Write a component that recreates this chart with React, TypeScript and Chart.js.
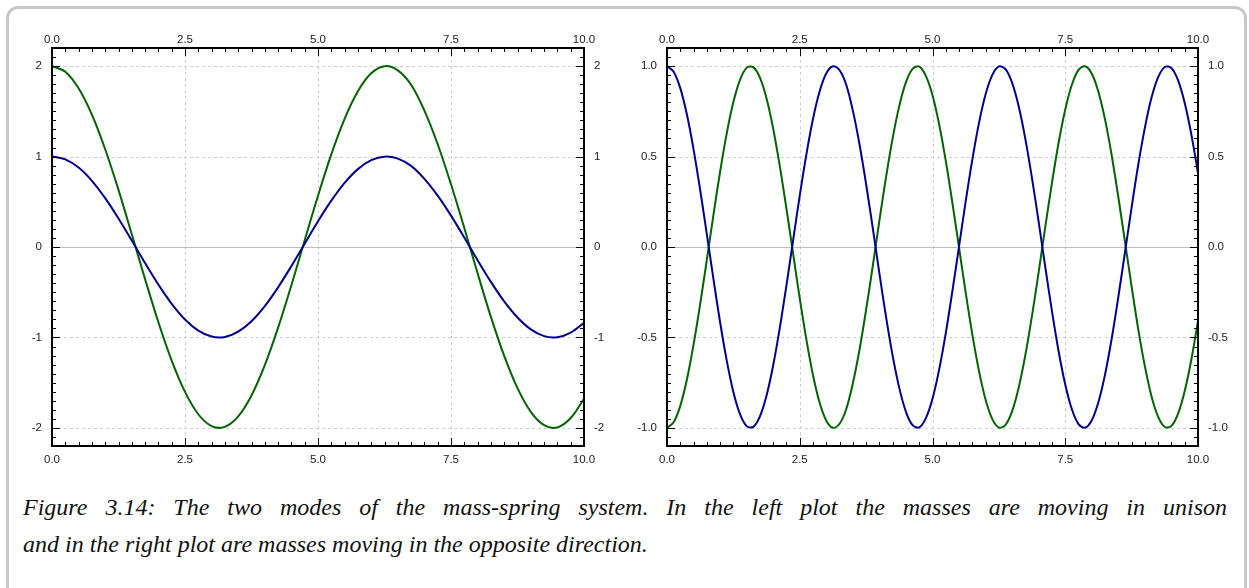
import React, { useEffect, useRef } from "react";
import { Chart, registerables } from "chart.js";

Chart.register(...registerables);

// ---------- data ----------
const leftX = [
  0, 0.25, 0.5, 0.75, 1, 1.25, 1.5, 1.75, 2, 2.25, 2.5, 2.75, 3, 3.25, 3.5, 3.75, 4, 4.25, 4.5, 4.75,
  5, 5.25, 5.5, 5.75, 6, 6.25, 6.5, 6.75, 7, 7.25, 7.5, 7.75, 8, 8.25, 8.5, 8.75, 9, 9.25, 9.5, 9.75, 10,
];
const leftBlue = [
  1.0, 0.969, 0.878, 0.732, 0.54, 0.315, 0.071, -0.178, -0.416, -0.628, -0.801, -0.924, -0.99, -0.994,
  -0.936, -0.821, -0.654, -0.446, -0.211, 0.037, 0.284, 0.512, 0.709, 0.861, 0.96, 0.999, 0.977, 0.897,
  0.754, 0.568, 0.347, 0.105, -0.146, -0.386, -0.602, -0.78, -0.911, -0.985, -0.997, -0.946, -0.839,
];
const leftGreen = [
  2.0, 1.938, 1.755, 1.463, 1.081, 0.631, 0.141, -0.356, -0.832, -1.256, -1.602, -1.849, -1.98, -1.988,
  -1.873, -1.641, -1.307, -0.892, -0.422, 0.075, 0.567, 1.024, 1.417, 1.722, 1.92, 1.999, 1.953, 1.794,
  1.508, 1.136, 0.693, 0.21, -0.291, -0.772, -1.204, -1.56, -1.822, -1.969, -1.994, -1.891, -1.678,
];
const rightX = [
  0, 0.125, 0.25, 0.375, 0.5, 0.625, 0.75, 0.875, 1, 1.125, 1.25, 1.375, 1.5, 1.625, 1.75, 1.875,
  2, 2.125, 2.25, 2.375, 2.5, 2.625, 2.75, 2.875, 3, 3.125, 3.25, 3.375, 3.5, 3.625, 3.75, 3.875,
  4, 4.125, 4.25, 4.375, 4.5, 4.625, 4.75, 4.875, 5, 5.125, 5.25, 5.375, 5.5, 5.625, 5.75, 5.875,
  6, 6.125, 6.25, 6.375, 6.5, 6.625, 6.75, 6.875, 7, 7.125, 7.25, 7.375, 7.5, 7.625, 7.75, 7.875,
  8, 8.125, 8.25, 8.375, 8.5, 8.625, 8.75, 8.875, 9, 9.125, 9.25, 9.375, 9.5, 9.625, 9.75, 9.875, 10,
];
const rightBlue = [
  1.0, 0.969, 0.878, 0.732, 0.54, 0.315, 0.071, -0.178, -0.416, -0.628, -0.801, -0.924, -0.99, -0.994,
  -0.936, -0.821, -0.654, -0.446, -0.211, 0.037, 0.284, 0.512, 0.709, 0.861, 0.96, 0.999, 0.977, 0.897,
  0.754, 0.568, 0.347, 0.105, -0.146, -0.386, -0.602, -0.78, -0.911, -0.985, -0.997, -0.946, -0.839,
  -0.678, -0.476, -0.243, 0.004, 0.252, 0.483, 0.685, 0.844, 0.95, 0.998, 0.983, 0.907, 0.775, 0.595,
  0.378, 0.137, -0.113, -0.355, -0.576, -0.76, -0.897, -0.979, -0.999, -0.958, -0.857, -0.704, -0.506,
  -0.275, -0.029, 0.219, 0.455, 0.66, 0.826, 0.939, 0.995, 0.989, 0.921, 0.796, 0.622, 0.408,
];
const rightGreen = [
  -1.0, -0.969, -0.878, -0.732, -0.54, -0.315, -0.071, 0.178, 0.416, 0.628, 0.801, 0.924, 0.99, 0.994,
  0.936, 0.821, 0.654, 0.446, 0.211, -0.037, -0.284, -0.512, -0.709, -0.861, -0.96, -0.999, -0.977, -0.897,
  -0.754, -0.568, -0.347, -0.105, 0.146, 0.386, 0.602, 0.78, 0.911, 0.985, 0.997, 0.946, 0.839,
  0.678, 0.476, 0.243, -0.004, -0.252, -0.483, -0.685, -0.844, -0.95, -0.998, -0.983, -0.907, -0.775, -0.595,
  -0.378, -0.137, 0.113, 0.355, 0.576, 0.76, 0.897, 0.979, 0.999, 0.958, 0.857, 0.704, 0.506,
  0.275, 0.029, -0.219, -0.455, -0.66, -0.826, -0.939, -0.995, -0.989, -0.921, -0.796, -0.622, -0.408,
];

const xTickValues = [0, 2.5, 5, 7.5, 10];
const xTickLabels = ["0.0", "2.5", "5.0", "7.5", "10.0"];
const leftYTickValues = [-2, -1, 0, 1, 2];
const leftYTickLabels = ["-2", "-1", "0", "1", "2"];
const rightYTickValues = [-1, -0.5, 0, 0.5, 1];
const rightYTickLabels = ["-1.0", "-0.5", "0.0", "0.5", "1.0"];

const captionLine1 =
  "Figure 3.14: The two modes of the mass-spring system. In the left plot the masses are moving in unison";
const captionLine2 = "and in the right plot are masses moving in the opposite direction.";

// ---------- styles ----------
const BLUE = "#00008f";
const GREEN = "#006400";
const TICK_FONT = { family: "'Liberation Sans', Arial, sans-serif", size: 11.5 };
const TICK_COLOR = "#222";

const isMultiple = (v: number, step: number) =>
  Math.abs(v / step - Math.round(v / step)) < 1e-6;

const framePlugin = {
  id: "frame",
  beforeDatasetsDraw(chart: any, _args: any, opts: any) {
    const { ctx, chartArea: a, scales } = chart;
    const xs = scales.x;
    const ys = scales.y;
    ctx.save();
    ctx.lineWidth = 1;
    ctx.strokeStyle = "#cfcfcf";
    ctx.setLineDash([3, 3]);
    for (const v of opts.xMajor) {
      if (v <= xs.min || v >= xs.max) continue;
      const px = Math.round(xs.getPixelForValue(v)) + 0.5;
      ctx.beginPath();
      ctx.moveTo(px, a.top);
      ctx.lineTo(px, a.bottom);
      ctx.stroke();
    }
    for (const v of opts.yMajor) {
      if (v === 0 || v <= ys.min || v >= ys.max) continue;
      const py = Math.round(ys.getPixelForValue(v)) + 0.5;
      ctx.beginPath();
      ctx.moveTo(a.left, py);
      ctx.lineTo(a.right, py);
      ctx.stroke();
    }
    ctx.setLineDash([]);
    ctx.strokeStyle = "#bdbdbd";
    const pz = Math.round(ys.getPixelForValue(0)) + 0.5;
    ctx.beginPath();
    ctx.moveTo(a.left, pz);
    ctx.lineTo(a.right, pz);
    ctx.stroke();
    ctx.restore();
  },
  afterDatasetsDraw(chart: any, _args: any, opts: any) {
    const { ctx, chartArea: a, scales } = chart;
    const xs = scales.x;
    const ys = scales.y;
    ctx.save();
    ctx.strokeStyle = "#000";
    ctx.lineWidth = 1;
    const xi0 = Math.ceil(xs.min / opts.xMinor - 1e-6);
    const xi1 = Math.floor(xs.max / opts.xMinor + 1e-6);
    for (let i = xi0; i <= xi1; i++) {
      const v = i * opts.xMinor;
      const len = isMultiple(v, opts.xMajorStep) ? 8 : 4;
      const px = Math.round(xs.getPixelForValue(v)) + 0.5;
      ctx.beginPath();
      ctx.moveTo(px, a.bottom);
      ctx.lineTo(px, a.bottom - len);
      ctx.moveTo(px, a.top);
      ctx.lineTo(px, a.top + len);
      ctx.stroke();
    }
    const yi0 = Math.ceil(ys.min / opts.yMinor - 1e-6);
    const yi1 = Math.floor(ys.max / opts.yMinor + 1e-6);
    for (let i = yi0; i <= yi1; i++) {
      const v = i * opts.yMinor;
      const len = isMultiple(v, opts.yMajorStep) ? 8 : 4;
      const py = Math.round(ys.getPixelForValue(v)) + 0.5;
      ctx.beginPath();
      ctx.moveTo(a.left, py);
      ctx.lineTo(a.left + len, py);
      ctx.moveTo(a.right, py);
      ctx.lineTo(a.right - len, py);
      ctx.stroke();
    }
    ctx.lineWidth = 2;
    ctx.strokeRect(a.left, a.top, a.right - a.left, a.bottom - a.top);
    ctx.restore();
  },
};

type PanelProps = {
  xVals: number[];
  series: { values: number[]; color: string }[];
  yMin: number;
  yMax: number;
  yTickValues: number[];
  yTickLabels: string[];
  yMinor: number;
  yMajorStep: number;
  leftW: number;
  rightW: number;
  width: number;
  height: number;
  left: number;
};

function xScale(position: "top" | "bottom", h: number, pad: number) {
  return {
    type: "linear",
    position,
    min: 0,
    max: 10,
    afterBuildTicks: (s: any) => {
      s.ticks = xTickValues.map((v) => ({ value: v }));
    },
    afterFit: (s: any) => {
      s.height = h;
    },
    ticks: {
      callback: (v: number) => xTickLabels[xTickValues.indexOf(v)],
      font: TICK_FONT,
      color: TICK_COLOR,
      padding: pad,
      maxRotation: 0,
      autoSkip: false,
    },
    grid: { display: false, drawTicks: false },
    border: { display: false },
  };
}

function yScale(
  position: "left" | "right",
  w: number,
  min: number,
  max: number,
  vals: number[],
  labels: string[]
) {
  return {
    type: "linear",
    position,
    min,
    max,
    afterBuildTicks: (s: any) => {
      s.ticks = vals.map((v) => ({ value: v }));
    },
    afterFit: (s: any) => {
      s.width = w;
    },
    ticks: {
      callback: (v: number) => labels[vals.indexOf(v)],
      font: TICK_FONT,
      color: TICK_COLOR,
      padding: 10,
      autoSkip: false,
    },
    grid: { display: false, drawTicks: false },
    border: { display: false },
  };
}

function Panel(p: PanelProps) {
  const ref = useRef<HTMLCanvasElement | null>(null);
  useEffect(() => {
    if (!ref.current) return;
    const chart = new Chart(ref.current, {
      type: "line",
      data: {
        datasets: p.series.map((s) => ({
          data: p.xVals.map((x, i) => ({ x, y: s.values[i] })),
          borderColor: s.color,
          borderWidth: 2,
          pointRadius: 0,
          fill: false,
          tension: 0.34,
          xAxisID: "x",
          yAxisID: "y",
        })),
      },
      options: {
        responsive: false,
        animation: false,
        devicePixelRatio: 1,
        layout: { padding: 0 },
        plugins: {
          legend: { display: false },
          tooltip: { enabled: false },
          frame: {
            xMajor: xTickValues,
            yMajor: p.yTickValues,
            xMinor: 0.25,
            xMajorStep: 2.5,
            yMinor: p.yMinor,
            yMajorStep: p.yMajorStep,
          },
        } as any,
        scales: {
          x: xScale("bottom", 29, 7),
          x2: xScale("top", 48, 1),
          y: yScale("left", p.leftW, p.yMin, p.yMax, p.yTickValues, p.yTickLabels),
          y2: yScale("right", p.rightW, p.yMin, p.yMax, p.yTickValues, p.yTickLabels),
        } as any,
      },
      plugins: [framePlugin],
    } as any);
    return () => chart.destroy();
  }, []);
  return (
    <canvas
      ref={ref}
      width={p.width}
      height={p.height}
      style={{ position: "absolute", left: p.left, top: 0, width: p.width, height: p.height }}
    />
  );
}

export default function App() {
  return (
    <div
      style={{
        position: "fixed",
        left: 0,
        top: 0,
        width: 1249,
        height: 588,
        overflow: "hidden",
        background: "#fff",
      }}
    >
      <div
        style={{
          position: "absolute",
          left: 6,
          top: 6,
          width: 1235,
          height: 590,
          border: "3px solid #c8c8c8",
          borderRadius: 12,
        }}
      />
      <Panel
        xVals={leftX}
        series={[
          { values: leftBlue, color: BLUE },
          { values: leftGreen, color: GREEN },
        ]}
        yMin={-2.2}
        yMax={2.2}
        yTickValues={leftYTickValues}
        yTickLabels={leftYTickLabels}
        yMinor={0.1}
        yMajorStep={1}
        leftW={52}
        rightW={41}
        width={625}
        height={475}
        left={0}
      />
      <Panel
        xVals={rightX}
        series={[
          { values: rightBlue, color: BLUE },
          { values: rightGreen, color: GREEN },
        ]}
        yMin={-1.1}
        yMax={1.1}
        yTickValues={rightYTickValues}
        yTickLabels={rightYTickLabels}
        yMinor={0.05}
        yMajorStep={0.5}
        leftW={42}
        rightW={51}
        width={624}
        height={475}
        left={625}
      />
      <div
        style={{
          position: "absolute",
          left: 23,
          top: 489,
          width: 1204,
          fontFamily: "'Liberation Serif', 'Times New Roman', serif",
          fontStyle: "italic",
          fontSize: 24,
          lineHeight: "37px",
          color: "#111",
        }}
      >
        <div style={{ textAlign: "justify", textAlignLast: "justify", whiteSpace: "nowrap" as any }}>
          {captionLine1}
        </div>
        <div>{captionLine2}</div>
      </div>
    </div>
  );
}
